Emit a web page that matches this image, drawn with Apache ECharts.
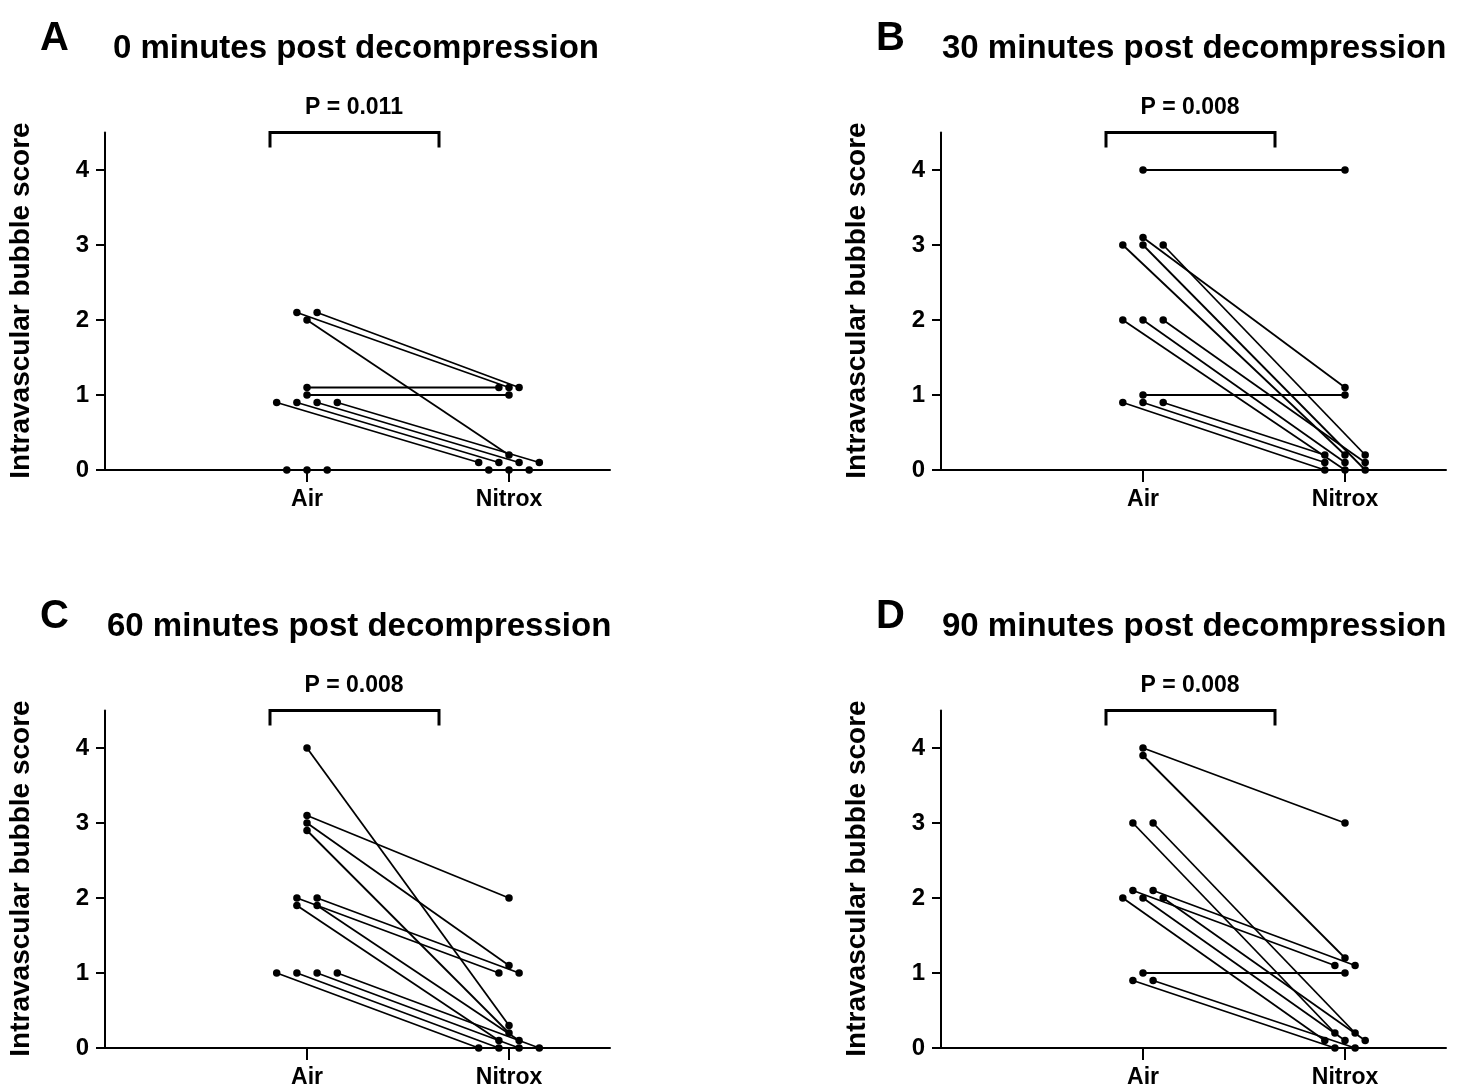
<!DOCTYPE html>
<html>
<head>
<meta charset="utf-8">
<script src="https://cdn.jsdelivr.net/npm/echarts@6/dist/echarts.min.js"></script>
<style>
  html, body { margin: 0; padding: 0; background: #fff; }
  #main { width: 1461px; height: 1089px; }
</style>
</head>
<body>
<div id="main"></div>
<script>
// categories and tick labels
var groups = ['Air', 'Nitrox']
var yTicks = [0, 1, 2, 3, 4]
var panelLetters = ['A', 'B', 'C', 'D']
var panelTitles = ['0 minutes post decompression', '30 minutes post decompression',
                   '60 minutes post decompression', '90 minutes post decompression']
var pValues = ['P = 0.011', 'P = 0.008', 'P = 0.008', 'P = 0.008']

// per subject: score (as plotted, small offsets keep ties visible) and sideways offset
var aAirY    = [2.1, 2.1, 2.0, 1.1, 1.0, 0.9, 0.9, 0.9, 0.9, 0, 0, 0]
var aAirOff  = [-0.05, 0.05, 0, 0, 0, -0.15, -0.05, 0.05, 0.15, -0.1, 0, 0.1]
var aNitY    = [1.1, 1.1, 0.2, 1.1, 1.0, 0.1, 0.1, 0.1, 0.1, 0, 0, 0]
var aNitOff  = [0, 0.05, 0, -0.05, 0, -0.15, -0.05, 0.05, 0.15, -0.1, 0, 0.1]

var bAirY    = [4.0, 3.1, 3.0, 3.0, 3.0, 2.0, 2.0, 2.0, 1.0, 0.9, 0.9, 0.9]
var bAirOff  = [0, 0, -0.1, 0, 0.1, -0.1, 0, 0.1, 0, -0.1, 0, 0.1]
var bNitY    = [4.0, 1.1, 0.2, 0, 0.2, 0, 0.1, 0.1, 1.0, 0, 0.1, 0.2]
var bNitOff  = [0, 0, 0, 0.1, 0.1, 0, 0, 0.1, 0, -0.1, -0.1, -0.1]

var cAirY    = [4.0, 3.1, 3.0, 2.9, 2.0, 2.0, 1.9, 1.9, 1.0, 1.0, 1.0, 1.0]
var cAirOff  = [0, 0, 0, 0, -0.05, 0.05, -0.05, 0.05, -0.15, -0.05, 0.05, 0.15]
var cNitY    = [0.3, 2.0, 1.1, 0.2, 1.0, 1.0, 0.1, 0.1, 0, 0, 0, 0]
var cNitOff  = [0, 0, 0, 0, -0.05, 0.05, -0.05, 0.05, -0.15, -0.05, 0.05, 0.15]

var dAirY    = [4.0, 3.9, 3.0, 3.0, 2.1, 2.1, 2.0, 2.0, 2.0, 1.0, 0.9, 0.9]
var dAirOff  = [0, 0, -0.05, 0.05, -0.05, 0.05, -0.1, 0, 0.1, 0, -0.05, 0.05]
var dNitY    = [3.0, 1.2, 0.2, 0.2, 1.1, 1.1, 0.1, 0.1, 0.1, 1.0, 0, 0]
var dNitOff  = [0, 0, -0.05, 0.05, -0.05, 0.05, -0.1, 0, 0.1, 0, -0.05, 0.05]

var panels = [
    [aAirY, aAirOff, aNitY, aNitOff],
    [bAirY, bAirOff, bNitY, bNitOff],
    [cAirY, cAirOff, cNitY, cNitOff],
    [dAirY, dAirOff, dNitY, dNitOff]
]

var font = 'Liberation Sans, Arial, Helvetica, sans-serif'
var gridLeft = [105, 941, 105, 941]
var gridTop = [132.5, 132.5, 710.5, 710.5]
var titleShift = [8, 1, 2, 1]

var myChart = echarts.init(document.getElementById('main'))

var grids = [], xAxes = [], yAxes = [], series = [], graphics = []

panels.forEach(function (p, k) {
    grids.push({left: gridLeft[k], top: gridTop[k], width: 505, height: 337.5})
    xAxes.push({
        type: 'value', gridIndex: k, min: 0, max: 2.5,
        axisLine: {lineStyle: {color: '#000', width: 2}},
        axisTick: {show: true, customValues: [1, 2], length: 12, lineStyle: {color: '#000', width: 2}},
        axisLabel: {
            customValues: [1, 2], margin: 18, color: '#000',
            fontFamily: font, fontWeight: 'bold', fontSize: 23,
            formatter: function (v) { return groups[v - 1] }
        },
        splitLine: {show: false}
    })
    yAxes.push({
        type: 'value', gridIndex: k, min: 0, max: 4.5, interval: 1,
        axisLine: {show: true, lineStyle: {color: '#000', width: 2}},
        axisTick: {show: true, customValues: yTicks, length: 9, lineStyle: {color: '#000', width: 2}},
        axisLabel: {
            customValues: yTicks, margin: 16, color: '#000',
            fontFamily: font, fontWeight: 'bold', fontSize: 24
        },
        splitLine: {show: false}
    })
    var airY = p[0], airOff = p[1], nitY = p[2], nitOff = p[3]
    for (var i = 0; i < airY.length; i++) {
        series.push({
            type: 'line', xAxisIndex: k, yAxisIndex: k,
            data: [[1 + airOff[i], airY[i]], [2 + nitOff[i], nitY[i]]],
            symbol: 'circle', symbolSize: 7.5, clip: false,
            lineStyle: {color: '#000', width: 1.8},
            itemStyle: {color: '#000'},
            silent: true
        })
    }

    // letter, title, p value, bracket, y axis name
    var gl = gridLeft[k], gt = gridTop[k]
    graphics.push({
        type: 'text', left: gl - 65, top: gt - 114,
        style: {text: panelLetters[k], font: 'bold 40px ' + font, fill: '#000'}
    })
    graphics.push({
        type: 'text', left: gl + titleShift[k], top: gt - 100,
        style: {text: panelTitles[k], font: 'bold 33px ' + font, fill: '#000'}
    })
    graphics.push({
        type: 'text', x: gl + 249, y: gt - 25,
        style: {text: pValues[k], font: 'bold 23px ' + font, fill: '#000',
                textAlign: 'center', textVerticalAlign: 'middle'}
    })
    graphics.push({
        type: 'polyline',
        shape: {points: [[gl + 165, gt + 15], [gl + 165, gt], [gl + 334, gt], [gl + 334, gt + 15]]},
        style: {stroke: '#000', lineWidth: 3, fill: null}
    })
    graphics.push({
        type: 'text', x: gl - 84, y: gt + 168, rotation: Math.PI / 2,
        style: {text: 'Intravascular bubble score', font: 'bold 28px ' + font, fill: '#000',
                textAlign: 'center', textVerticalAlign: 'middle'}
    })
})

var option = {
    backgroundColor: '#fff',
    animation: false,
    grid: grids,
    xAxis: xAxes,
    yAxis: yAxes,
    series: series,
    graphic: graphics
}
myChart.setOption(option)
</script>
</body>
</html>
